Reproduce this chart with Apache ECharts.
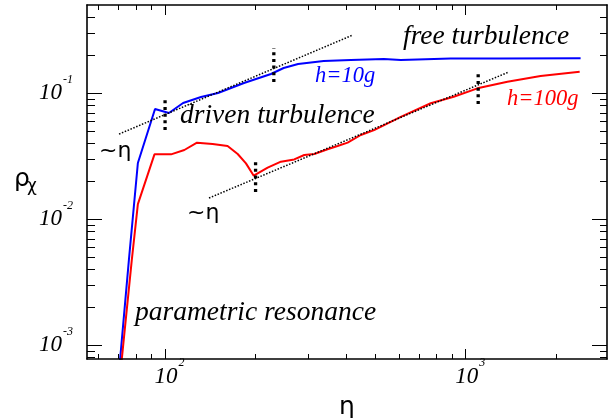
<!DOCTYPE html>
<html>
<head>
<meta charset="utf-8">
<script src="https://cdn.jsdelivr.net/npm/echarts@6/dist/echarts.min.js"></script>
<style>
html,body{margin:0;padding:0;background:#fff;}
#c{width:609px;height:418px;}
</style>
</head>
<body>
<div id="c"></div>
<script>
// ---- data ----
const blueEta = [70.2, 75.8, 81.2, 92.6, 103, 114.8, 131.7, 150, 183, 225, 248, 277, 337, 415, 534, 608, 891, 1306, 2410];
const blueRho = [6e-4, 4.75e-3, 0.028, 0.075, 0.0698, 0.0838, 0.0935, 0.1005, 0.1208, 0.1423, 0.1588, 0.171, 0.1805, 0.1837, 0.187, 0.1837, 0.1888, 0.1888, 0.1897];

const redEta = [71.0, 77.5, 81.2, 92.2, 104.7, 115.9, 127.7, 143.9, 161.4, 174.4, 185.8, 197.2, 219.4, 242.8, 268.9, 290.4, 313.5, 347.1, 374.8, 404.8, 447.8, 495.7, 608, 765, 912, 1094, 1376, 1774, 2393];
const redRho = [6e-4, 4.75e-3, 0.0132, 0.0328, 0.0328, 0.0355, 0.0406, 0.0396, 0.0382, 0.0330, 0.0278, 0.0222, 0.0257, 0.0287, 0.0299, 0.0324, 0.0330, 0.0360, 0.0382, 0.0406, 0.0467, 0.0511, 0.0651, 0.0834, 0.0940, 0.1095, 0.1236, 0.1371, 0.1483];

// ~eta guide lines (endpoints)
const guide1Eta = [70.3, 421];
const guide1Rho = [0.0475, 0.290];
const guide2Eta = [140, 1390];
const guide2Rho = [0.01476, 0.1476];

// vertical dotted markers
const markEta  = [100, 230, 200, 1100];
const markLow  = [0.0511, 0.123, 0.0165, 0.0822];
const markHigh = [0.0935, 0.229, 0.0296, 0.151];

// axis ranges and ticks
const xMin = 55, xMax = 2950;
const yMin = 7.8e-4, yMax = 0.502;
const xMajor = [100, 1000];
const xMinor = [60, 70, 80, 90, 200, 300, 400, 500, 600, 700, 800, 900, 2000];
const yMajor = [0.001, 0.01, 0.1];
const yMinor = [0.0008, 0.0009, 0.002, 0.003, 0.004, 0.005, 0.006, 0.007, 0.008, 0.009,
                0.02, 0.03, 0.04, 0.05, 0.06, 0.07, 0.08, 0.09, 0.2, 0.3, 0.4];

// ---- chart ----
const zip = (a, b) => a.map((v, i) => [v, b[i]]);
const serif = 'Liberation Serif';
const labelRich = {
  a: { fontFamily: serif, fontStyle: 'italic', fontSize: 23, lineHeight: 23, color: '#000', verticalAlign: 'bottom' },
  b: { fontFamily: serif, fontStyle: 'italic', fontSize: 12, lineHeight: 12, color: '#000', verticalAlign: 'bottom', padding: [0, 0, 19, 1] }
};
const labelRichX = {
  a: Object.assign({}, labelRich.a, { padding: [0, 0, 0, 9] }),
  b: labelRich.b
};
const fmt = v => '{a|10}{b|' + Math.round(Math.log10(v)) + '}';

function axis(dim, pos, major, opts) {
  const isMajor = opts.major;
  const o = {
    type: 'log',
    position: pos,
    min: dim === 'x' ? xMin : yMin,
    max: dim === 'x' ? xMax : yMax,
    axisLine: { show: isMajor, onZero: false, lineStyle: { color: '#000', width: 1.6 } },
    axisTick: { show: true, inside: true, length: opts.len, customValues: major, lineStyle: { color: '#000', width: 1 } },
    axisLabel: { show: false },
    splitLine: { show: false },
    minorTick: { show: false },
    z: 5
  };
  if (opts.label) {
    o.axisLabel = {
      show: true,
      customValues: major,
      formatter: fmt,
      rich: dim === 'x' ? labelRichX : labelRich,
      margin: opts.margin
    };
  }
  return o;
}

const xAxes = [
  axis('x', 'bottom', xMajor, { major: true, len: 10, label: true, margin: 6 }),
  axis('x', 'bottom', xMinor, { major: false, len: 5 }),
  axis('x', 'top', xMajor, { major: true, len: 10 }),
  axis('x', 'top', xMinor, { major: false, len: 5 })
];
const yAxes = [
  axis('y', 'left', yMajor, { major: true, len: 15, label: true, margin: 14 }),
  axis('y', 'left', yMinor, { major: false, len: 8 }),
  axis('y', 'right', yMajor, { major: true, len: 15 }),
  axis('y', 'right', yMinor, { major: false, len: 7 })
];

const series = [
  { type: 'line', data: zip(blueEta, blueRho), symbol: 'none', lineStyle: { color: '#0000ff', width: 2 }, z: 3 },
  { type: 'line', data: zip(redEta, redRho), symbol: 'none', lineStyle: { color: '#ff0000', width: 2 }, z: 3 },
  { type: 'line', data: zip(guide1Eta, guide1Rho), symbol: 'none', lineStyle: { color: '#000', width: 1.5, type: [1.5, 1.6] }, z: 4 },
  { type: 'line', data: zip(guide2Eta, guide2Rho), symbol: 'none', lineStyle: { color: '#000', width: 1.5, type: [1.5, 1.6] }, z: 4 }
];
markEta.forEach((e, i) => {
  series.push({
    type: 'line', data: [[e, markLow[i]], [e, markHigh[i]]], symbol: 'none',
    lineStyle: { color: '#000', width: 3.3, type: [3, 3.7], cap: 'butt' }, z: 4
  });
});

function txt(text, x, y, font, color, align) {
  return {
    type: 'text', x: x, y: y, z: 10,
    style: { text: text, font: font, fill: color || '#000', align: align || 'left', verticalAlign: 'middle',
             textAlign: align || 'left', textVerticalAlign: 'middle' }
  };
}
const itFont = s => 'italic ' + s + 'px "Liberation Serif"';
const grFont = s => s + 'px "DejaVu Sans"';

const chart = echarts.init(document.getElementById('c'), null, { renderer: 'canvas' });
chart.setOption({
  animation: false,
  backgroundColor: '#fff',
  grid: { left: 87, right: 2, top: 5, bottom: 59, containLabel: false },
  xAxis: xAxes,
  yAxis: yAxes,
  series: series,
  graphic: [
    txt('free turbulence', 403, 37, itFont(27.5)),
    txt('driven turbulence', 180, 116, itFont(27.5)),
    txt('h=10g', 315, 76, itFont(22.5), '#0000ff'),
    txt('h=100g', 507, 99, itFont(22.5), '#ff0000'),
    txt('parametric resonance', 135, 313, itFont(27.5)),
    txt('~η', 99, 151, grFont(22)),
    txt('~η', 187, 213, grFont(22)),
    txt('ρ', 14, 179, grFont(25)),
    txt('χ', 27, 187, grFont(17)),
    txt('η', 347, 407, grFont(25), '#000', 'center')
  ]
});
</script>
</body>
</html>
